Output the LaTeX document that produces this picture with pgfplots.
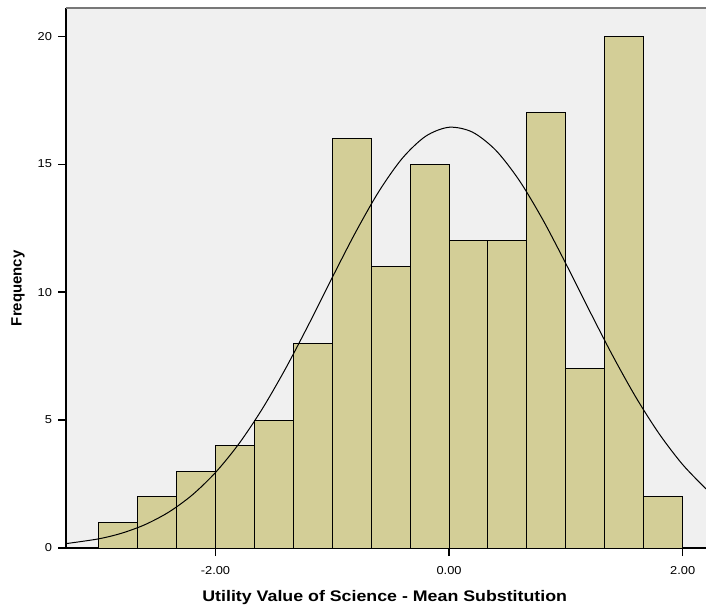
\documentclass[border=0pt]{standalone}
\usepackage{pgfplots}
\pgfplotsset{compat=1.18}
\usepackage{fontspec}
\setmainfont{Liberation Sans}
\newfontfamily\wideticks[FakeStretch=1.12]{Liberation Sans}
\newfontfamily\widelbl[FakeStretch=1.16]{Liberation Sans}
\definecolor{bggray}{RGB}{240,240,240}
\definecolor{barfill}{RGB}{211,206,151}
\definecolor{topgray}{RGB}{120,120,120}
\begin{document}
\begin{tikzpicture}[x=1pt,y=1pt]
\begin{axis}[
  at={(0,0)}, anchor=south west,
  scale only axis,
  width=480pt, height=405pt,
  xmin=-3.28, xmax=2.2,
  ymin=0, ymax=21.1,
  axis x line*=bottom, axis y line*=left,
  axis line style={black, line width=0.9pt, -},
  axis background/.style={fill=bggray},
  xtick={-2,0,2}, xticklabels={-2.00,0.00,2.00},
  ytick={0,5,10,15,20}, yticklabels={0,5,10,15,20},
  tick align=outside, major tick length=6pt,
  tick style={black, line width=0.9pt},
  ticklabel style={font=\wideticks\fontsize{8.6pt}{10pt}\selectfont},
  xticklabel style={yshift=-4.5pt},
  yticklabel style={xshift=-1pt},
  xlabel={\textbf{Utility Value of Science - Mean Substitution}},
  ylabel={\textbf{Frequency}},
  xlabel style={font=\widelbl\fontsize{11.5pt}{13pt}\selectfont,
    at={(axis description cs:0.498,-0.091)}, anchor=center},
  ylabel style={font=\fontsize{11.2pt}{13pt}\selectfont,
    at={(axis description cs:-0.075,0.481)}, anchor=center},
  clip=true,
]
\addplot[ybar interval, fill=barfill, draw=black, line width=0.75pt] coordinates {
 (-3.0000,1) (-2.6667,2) (-2.3333,3) (-2.0000,4) (-1.6667,5)
 (-1.3333,8) (-1.0000,16) (-0.6667,11) (-0.3333,15) (0.0000,12)
 (0.3333,12) (0.6667,17) (1.0000,7) (1.3333,20) (1.6667,2) (2.0000,2)
};
\addplot[black, line width=0.75pt, smooth, mark=none] coordinates {
 (-3.28,0.171) (-3.0,0.358) (-2.8,0.583) (-2.6,0.920) (-2.4,1.403)
 (-2.2,2.068) (-2.0,2.951) (-1.8,4.070) (-1.6,5.432) (-1.4,7.011)
 (-1.2,8.753) (-1.0,10.57) (-0.8,12.34) (-0.6,13.94) (-0.4,15.23)
 (-0.2,16.09) (0.0,16.44) (0.2,16.25) (0.4,15.54) (0.6,14.37)
 (0.8,12.85) (1.0,11.11) (1.2,9.294) (1.4,7.521) (1.6,5.886)
 (1.8,4.455) (2.0,3.260) (2.2,2.308)
};
\draw[topgray, line width=0.9pt] (rel axis cs:0,1) -- (rel axis cs:1,1);
\end{axis}
\pgfresetboundingbox
\path (-49.5pt,-46.5pt) rectangle (480pt,411pt);
\end{tikzpicture}
\end{document}
